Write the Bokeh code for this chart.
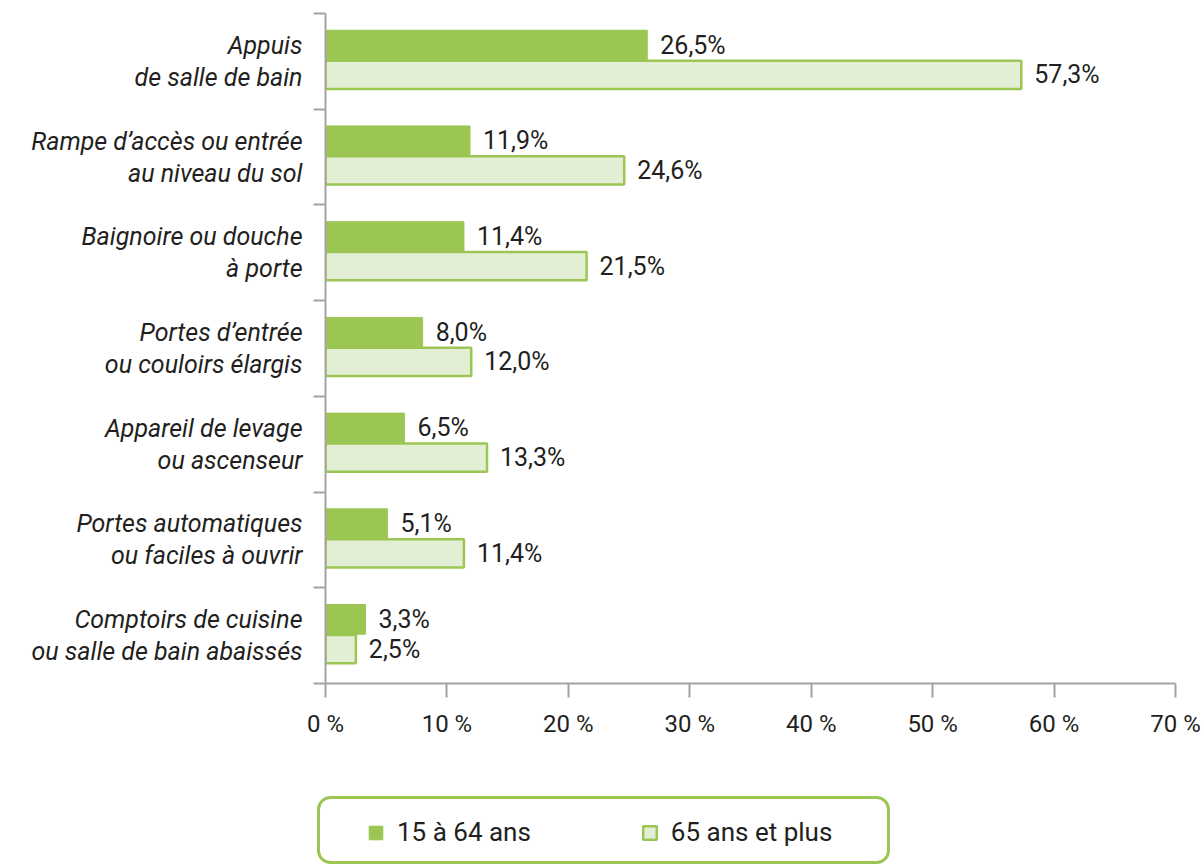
import numpy as np
from bokeh.plotting import figure
from bokeh.models import (ColumnDataSource, FixedTicker, Range1d, Legend, LegendItem,
                          BoxAnnotation)
from bokeh.core.properties import value
from bokeh.embed import file_html
from bokeh.resources import INLINE

categories = [
    "Appuis\nde salle de bain",
    "Rampe d’accès ou entrée\nau niveau du sol",
    "Baignoire ou douche\nà porte",
    "Portes d’entrée\nou couloirs élargis",
    "Appareil de levage\nou ascenseur",
    "Portes automatiques\nou faciles à ouvrir",
    "Comptoirs de cuisine\nou salle de bain abaissés",
]
young = [26.5, 11.9, 11.4, 8.0, 6.5, 5.1, 3.3]
old = [57.3, 24.6, 21.5, 12.0, 13.3, 11.4, 2.5]
series_names = ["15 à 64 ans", "65 ans et plus"]
x_ticks = [0, 10, 20, 30, 40, 50, 60, 70]

GREEN = "#9CC653"
LIGHT = "#E3EFD4"
TEXT = "#231F20"
GRAY = "#A3A3A3"
FONT = "Roboto"

n = len(categories)
centers = [n - 1 - i for i in range(n)]
bar_h = 0.31
shift = 0.015
y_young = [c + bar_h / 2 + shift for c in centers]
y_old = [c - bar_h / 2 + shift for c in centers]

def fmt(v):
    return f"{v:.1f}".replace(".", ",") + "%"

src_y = ColumnDataSource(dict(y=y_young, x=young, label=[fmt(v) for v in young]))
src_o = ColumnDataSource(dict(y=y_old, x=old, label=[fmt(v) for v in old]))

MAIN_H = 770
p = figure(width=1202, height=MAIN_H, output_backend="svg", toolbar_location=None,
           x_range=Range1d(0, 70), y_range=Range1d(-0.5, n - 0.5),
           min_border_left=325, min_border_right=27, min_border_top=13,
           min_border_bottom=MAIN_H - 683)
p.outline_line_color = None
p.grid.grid_line_color = None
p.background_fill_color = "white"
p.border_fill_color = "white"

r1 = p.hbar(y="y", right="x", left=0, height=bar_h, source=src_y,
            fill_color=GREEN, line_color=GREEN, line_width=1)
r2 = p.hbar(y="y", right="x", left=0, height=bar_h - 0.015, source=src_o,
            fill_color=LIGHT, line_color=GREEN, line_width=2.5)

for src in (src_y, src_o):
    p.text(x="x", y="y", text="label", source=src, x_offset=13,
           text_baseline="middle", text_align="left",
           text_font=value(FONT), text_font_size="25px",
           text_color=TEXT)

# x axis
xa = p.xaxis[0]
xa.ticker = FixedTicker(ticks=x_ticks)
xa.major_label_overrides = {t: f"{t} %" for t in x_ticks}
xa.axis_line_color = GRAY
xa.axis_line_width = 2
xa.major_tick_line_color = GRAY
xa.major_tick_line_width = 2
xa.major_tick_out = 14
xa.major_tick_in = 0
xa.minor_tick_line_color = None
xa.major_label_standoff = 12
xa.major_label_text_font = FONT
xa.major_label_text_font_size = "24px"
xa.major_label_text_color = TEXT

# y axis
ya = p.yaxis[0]
ya.ticker = FixedTicker(ticks=centers, minor_ticks=[c - 0.5 for c in range(n + 1)])
ya.major_label_overrides = {c: categories[i] for i, c in enumerate(centers)}
ya.axis_line_color = GRAY
ya.axis_line_width = 2
ya.major_tick_line_color = None
ya.major_tick_out = 0
ya.major_tick_in = 0
ya.minor_tick_line_color = GRAY
ya.minor_tick_line_width = 2
ya.minor_tick_out = 12
ya.minor_tick_in = 0
ya.major_label_standoff = 11
ya.major_label_text_font = FONT
ya.major_label_text_font_style = "italic"
ya.major_label_text_font_size = "25px"
ya.major_label_text_color = TEXT
ya.major_label_text_line_height = 1.1

# legend strip: a separate root, frame covers the whole strip (1 data unit = 1 px)
LEG_H = 865 - MAIN_H
q = figure(width=1202, height=LEG_H, output_backend="svg", toolbar_location=None,
           x_range=Range1d(0, 1202), y_range=Range1d(0, LEG_H),
           min_border_left=0, min_border_right=0,
           min_border_top=0, min_border_bottom=0)
q.axis.visible = False
q.grid.grid_line_color = None
q.outline_line_color = None
q.background_fill_color = "white"
q.border_fill_color = "white"
# legend proxies for the two series (not drawn: NaN positions)
nan_y = np.full(n, np.nan)
l1 = q.hbar(y=nan_y, right=np.array(young), left=0, height=1,
            fill_color=GREEN, line_color=GREEN, line_width=1)
l2 = q.hbar(y=nan_y, right=np.array(old), left=0, height=1,
            fill_color=LIGHT, line_color=GREEN, line_width=2.5)

legend = Legend(items=[LegendItem(label=series_names[0], renderers=[l1]),
                       LegendItem(label=series_names[1], renderers=[l2])],
                orientation="horizontal", location=(367, 18),
                glyph_width=17, glyph_height=17, label_standoff=13, spacing=110,
                padding=0, margin=0,
                label_text_font=FONT, label_text_font_size="26px",
                label_text_color=TEXT, border_line_alpha=0,
                background_fill_alpha=0)
q.add_layout(legend, "center")

box = BoxAnnotation(left=318, right=888, top=LEG_H - (797 - MAIN_H),
                    bottom=LEG_H - (862 - MAIN_H),
                    fill_alpha=0, fill_color=None, line_color=GREEN, line_width=3,
                    line_alpha=1.0, border_radius=12, level="overlay")
q.add_layout(box)

open("out.html", "w").write(file_html([p, q], INLINE))
